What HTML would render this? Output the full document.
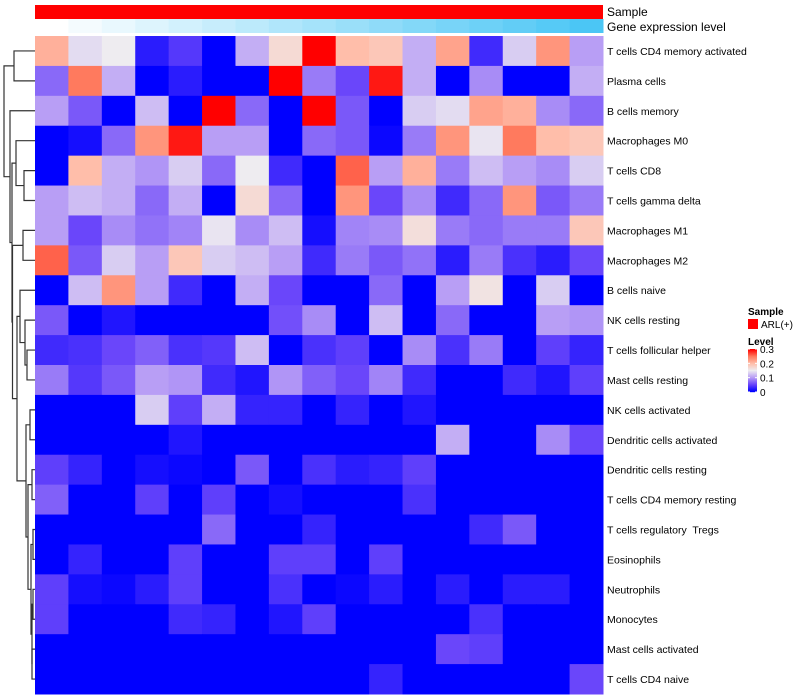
<!DOCTYPE html>
<html><head><meta charset="utf-8"><style>
body{margin:0;background:#fff;font-family:"Liberation Sans",sans-serif;}
svg{display:block}
text{white-space:pre}
</style></head><body>
<svg id="chart" width="800" height="700" xmlns="http://www.w3.org/2000/svg"></svg>
<script>
const rowLabels=["T cells CD4 memory activated","Plasma cells","B cells memory","Macrophages M0","T cells CD8","T cells gamma delta","Macrophages M1","Macrophages M2","B cells naive","NK cells resting","T cells follicular helper","Mast cells resting","NK cells activated","Dendritic cells activated","Dendritic cells resting","T cells CD4 memory resting","T cells regulatory  Tregs","Eosinophils","Neutrophils","Monocytes","Mast cells activated","T cells CD4 naive"];
const r0=[0.21,0.14,0.15,0.02,0.04,0,0.11,0.17,0.3,0.2,0.19,0.11,0.22,0.03,0.13,0.23,0.10];
const r1=[0.07,0.25,0.11,0,0.02,0,0,0.3,0.08,0.05,0.29,0.11,0,0.09,0,0,0.11];
const r2=[0.10,0.06,0,0.12,0,0.3,0.07,0,0.3,0.06,0,0.13,0.14,0.22,0.21,0.09,0.07];
const r3=[0,0.01,0.07,0.23,0.29,0.10,0.10,0,0.07,0.06,0.005,0.08,0.23,0.145,0.25,0.2,0.19];
const r4=[0,0.2,0.11,0.095,0.13,0.07,0.15,0.03,0,0.26,0.1,0.21,0.08,0.12,0.1,0.09,0.13];
const r5=[0.10,0.12,0.11,0.07,0.11,0,0.17,0.07,0,0.23,0.05,0.09,0.03,0.07,0.23,0.06,0.08];
const r6=[0.10,0.05,0.09,0.075,0.085,0.145,0.09,0.12,0.01,0.085,0.09,0.165,0.08,0.07,0.08,0.08,0.19];
const r7=[0.26,0.06,0.13,0.10,0.19,0.13,0.12,0.10,0.03,0.08,0.06,0.075,0.02,0.08,0.035,0.02,0.05];
const r8=[0,0.12,0.23,0.10,0.03,0,0.11,0.05,0,0,0.07,0,0.10,0.16,0,0.13,0];
const r9=[0.06,0,0.015,0,0,0,0,0.055,0.09,0,0.12,0,0.07,0,0,0.10,0.095];
const r10=[0.03,0.035,0.05,0.065,0.035,0.04,0.12,0,0.035,0.045,0,0.09,0.035,0.08,0,0.045,0.025];
const r11=[0.08,0.04,0.06,0.10,0.095,0.03,0.015,0.095,0.065,0.05,0.085,0.03,0,0,0.03,0.015,0.045];
const r12=[0,0,0,0.13,0.045,0.11,0.025,0.025,0,0.025,0,0.015,0,0,0,0,0];
const r13=[0,0,0,0,0.015,0,0,0,0,0,0,0,0.11,0,0,0.09,0.05];
const r14=[0.045,0.025,0,0.01,0.005,0,0.06,0,0.035,0.02,0.025,0.045,0,0,0,0,0];
const r15=[0.065,0,0,0.045,0,0.045,0,0.01,0,0,0,0.035,0,0,0,0,0];
const r16=[0,0,0,0,0,0.07,0,0,0.025,0,0,0,0,0.03,0.06,0,0];
const r17=[0,0.025,0,0,0.045,0,0,0.045,0.045,0,0.045,0,0,0,0,0,0];
const r18=[0.045,0.01,0.005,0.02,0.045,0,0,0.035,0,0.005,0.02,0,0.02,0,0.02,0.02,0];
const r19=[0.045,0,0,0,0.03,0.025,0,0.015,0.045,0,0,0,0,0.035,0,0,0];
const r20=[0,0,0,0,0,0,0,0,0,0,0,0,0.05,0.045,0,0,0];
const r21=[0,0,0,0,0,0,0,0,0,0,0.025,0,0,0,0,0,0.05];
const values=[r0,r1,r2,r3,r4,r5,r6,r7,r8,r9,r10,r11,r12,r13,r14,r15,r16,r17,r18,r19,r20,r21];
const geneLevel=[0,1,2,3,4,5,6,7,8,9,10,11,12,13,14,15,16];
const legendTicks=[0,0.1,0.2,0.3];

const NS="http://www.w3.org/2000/svg";
const svg=document.getElementById('chart');
const X0=35,X1=603,Y0=36,Y1=694;
const nC=17,nR=22;
const cw=(X1-X0)/nC,rh=(Y1-Y0)/nR;
const xPos=c=>X0+c*cw;
const yPos=r=>Y0+r*rh;
function el(t,a,p){const e=document.createElementNS(NS,t);for(const k in a)e.setAttribute(k,a[k]);(p||svg).appendChild(e);return e;}
const stops=[[0,[0,0,255]],[0.05,[106,70,250]],[0.1,[184,158,245]],[0.15,[238,236,240]],[0.2,[255,190,170]],[0.25,[255,122,94]],[0.3,[255,0,0]]];
function color(v){v=Math.max(0,Math.min(0.3,v));for(let i=1;i<stops.length;i++){if(v<=stops[i][0]){const a=stops[i-1],b=stops[i];const t=(v-a[0])/(b[0]-a[0]);const c=a[1].map((x,j)=>Math.round(x+(b[1][j]-x)*t));return `rgb(${c})`;}}return 'rgb(255,0,0)';}

// annotation
const sb=el('rect',{x:X0,y:5,width:X1-X0,height:14,fill:'#ff0000'});


geneLevel.forEach((g,c)=>{const t=g/(nC-1);const col=`rgb(${Math.round(255-(255-75)*t)},${Math.round(255-(255-198)*t)},${Math.round(255-(255-245)*t)})`;
const r=el('rect',{x:xPos(c),y:19,width:cw+0.5,height:14,fill:col});

});
const t1=el('text',{x:607,y:16,'font-size':12,fill:'#000'});t1.textContent='Sample';


const t2=el('text',{x:607,y:31,'font-size':12,fill:'#000'});t2.textContent='Gene expression level';



// cells
values.forEach((row,r)=>row.forEach((v,c)=>{
const rc=el('rect',{x:xPos(c),y:yPos(r),width:cw+0.5,height:rh+0.5,fill:color(v)});


}));
rowLabels.forEach((l,r)=>{const t=el('text',{x:607,y:yPos(r)+rh/2+4,'font-size':10.5,fill:'#000','xml:space':'preserve'});t.textContent=l;

});

// dendrogram
const L=i=>({leaf:i});
const N=(h,a,b)=>({h,a,b});
const tree=N(4,N(14,L(0),L(1)),N(10,L(2),N(12,N(16,L(3),N(24,L(4),L(5))),N(12.5,N(23,L(6),L(7)),N(17,N(20,L(8),N(25,L(9),N(27,L(10),L(11)))),N(26,N(30,L(12),L(13)),N(28,N(32,L(14),L(15)),N(31,N(33,L(16),L(17)),N(32,N(33,L(18),L(19)),N(32,L(20),L(21)))))))))));
const dg=el('g',{stroke:'#333','stroke-width':1.2,fill:'none'});


function draw(n){if(n.leaf!==undefined)return{x:X0,y:yPos(n.leaf)+rh/2};
const a=draw(n.a),b=draw(n.b);
el('path',{d:`M${a.x},${a.y}H${n.h}V${b.y}H${b.x}`},dg);
return{x:n.h,y:(a.y+b.y)/2};}
draw(tree);

// legend
const lt=el('text',{x:748,y:315,'font-size':10,'font-weight':'bold'});lt.textContent='Sample';


const lr=el('rect',{x:748,y:319,width:10,height:10,fill:'#ff0000'});


const la=el('text',{x:761,y:328,'font-size':10});la.textContent='ARL(+)';


const lv=el('text',{x:748,y:345,'font-size':10,'font-weight':'bold'});lv.textContent='Level';


const gTop=349,gBot=392;
for(let i=0;i<43;i++){const v=0.3*(1-i/42);el('rect',{x:748,y:gTop+i,width:9,height:1.2,fill:color(v)});}
const ly=v=>gBot-(v/0.3)*(gBot-gTop);
legendTicks.forEach(v=>{el('line',{x1:748,x2:750,y1:ly(v),y2:ly(v),stroke:'#fff'});el('line',{x1:755,x2:757,y1:ly(v),y2:ly(v),stroke:'#fff'});
const t=el('text',{x:760,y:ly(v)+4,'font-size':10});t.textContent=String(v);

});
</script>
</body></html>
